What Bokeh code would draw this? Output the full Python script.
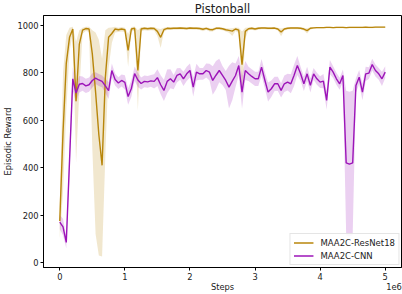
from bokeh.plotting import figure
from bokeh.models import Legend, LegendItem, FixedTicker, LinearAxis
from bokeh.embed import file_html
from bokeh.resources import INLINE

# evaluation steps (in units of 1e6), one evaluation every 50k steps
eval_every_m = 0.05
steps_m = [round(i * eval_every_m, 2) for i in range(101)]

resnet_mean = [175, 550, 840, 950, 985, 680, 920, 980, 987, 985,
               880, 720, 540, 410, 780, 950, 966, 985, 982, 985,
               982, 895, 985, 988, 810, 985, 988, 986, 988, 987,
               975, 950, 982, 988, 987, 988, 988, 989, 988, 987,
               989, 988, 988, 987, 984, 988, 983, 982, 988, 988,
               986, 982, 979, 976, 985, 980, 835, 975, 986, 988,
               985, 988, 989, 989, 988, 988, 989, 985, 972, 985,
               988, 989, 989, 989, 988, 985, 978, 988, 990, 991,
               991, 991, 992, 992, 991, 992, 992, 992, 991, 992,
               992, 992, 992, 992, 993, 992, 992, 993, 993, 993, 993]
resnet_down = [75, 250, 200, 60, 15, 260, 200, 15, 10, 12,
               400, 600, 510, 385, 330, 130, 40, 15, 10, 10,
               10, 70, 10, 10, 170, 10, 8, 8, 8, 8,
               20, 45, 10, 6, 6, 6, 6, 6, 6, 6,
               6, 6, 6, 6, 8, 6, 8, 8, 6, 6,
               6, 8, 10, 20, 8, 12, 135, 30, 6, 6,
               6, 6, 5, 5, 5, 5, 5, 6, 18, 6,
               5, 5, 5, 5, 5, 6, 12, 5, 4, 4,
               4, 4, 4, 4, 4, 4, 4, 4, 4, 4,
               4, 4, 4, 4, 4, 4, 4, 4, 4, 4, 4]
resnet_up = [75, 250, 120, 40, 10, 250, 60, 10, 8, 10,
             100, 250, 400, 450, 200, 40, 25, 10, 8, 8,
             8, 70, 8, 8, 170, 8, 6, 6, 6, 6,
             12, 35, 8, 5, 5, 5, 5, 5, 5, 5,
             5, 5, 5, 5, 6, 5, 6, 6, 5, 5,
             5, 6, 8, 12, 6, 10, 140, 15, 5, 5,
             5, 5, 4, 4, 4, 4, 4, 5, 15, 5,
             4, 4, 4, 4, 4, 5, 10, 4, 3, 3,
             3, 3, 3, 3, 3, 3, 3, 3, 3, 3,
             3, 3, 3, 3, 3, 3, 3, 3, 3, 3, 3]

cnn_mean = [170, 150, 85, 430, 775, 715, 752, 755, 745, 750,
            768, 778, 770, 764, 745, 725, 810, 772, 757, 768,
            760, 700, 734, 797, 770, 755, 764, 762, 766, 764,
            780, 750, 726, 764, 775, 761, 789, 796, 775, 796,
            810, 740, 803, 796, 796, 810, 803, 768, 790, 810,
            789, 768, 740, 765, 789, 831, 719, 810, 796, 785,
            775, 775, 824, 770, 719, 733, 754, 754, 726, 754,
            761, 754, 790, 831, 796, 754, 796, 747, 796, 775,
            761, 765, 684, 824, 803, 775, 754, 789, 420, 415,
            420, 747, 782, 719, 796, 799, 835, 810, 796, 775, 803]
cnn_spread = [30, 35, 25, 60, 50, 40, 35, 30, 30, 30,
              30, 25, 25, 25, 30, 35, 30, 25, 25, 25,
              30, 35, 35, 30, 30, 25, 25, 25, 25, 30,
              35, 40, 45, 50, 40, 30, 30, 25, 30, 30,
              30, 40, 35, 25, 25, 30, 35, 60, 60, 50,
              40, 40, 90, 80, 50, 40, 70, 40, 30, 30,
              30, 30, 35, 35, 40, 35, 30, 30, 30, 35,
              35, 40, 45, 40, 30, 30, 30, 30, 25, 25,
              25, 30, 40, 30, 25, 25, 25, 25, 305, 305,
              305, 30, 30, 35, 30, 25, 25, 25, 25, 30, 25]

series_names = ["MAA2C-ResNet18", "MAA2C-CNN"]
series_colors = ["#B8860B", "#9C14B8"]
x_ticks = [0, 1, 2, 3, 4, 5]
y_ticks = [0, 200, 400, 600, 800, 1000]
x_label = "Steps"
x_offset_text = "1e6"

FONT = "DejaVu Sans"
TXT = "#222222"

p = figure(width=402, height=294, output_backend="svg", toolbar_location=None,
           x_range=(-0.25, 5.25), y_range=(-21, 1042),
           min_border_left=43, min_border_right=1, min_border_top=0,
           min_border_bottom=0)

p.title.text = "Pistonball"
p.title.align = "center"
p.title.text_font = FONT
p.title.text_font_size = "11.5px"
p.title.text_font_style = "normal"
p.title.text_color = TXT
p.title.standoff = -1

p.xgrid.visible = False
p.ygrid.visible = False
p.outline_line_color = "black"
p.outline_line_width = 1
p.outline_line_alpha = 1
p.background_fill_color = "white"
p.border_fill_color = "white"

bands = [
    (resnet_mean, [m - d for m, d in zip(resnet_mean, resnet_down)],
     [m + u for m, u in zip(resnet_mean, resnet_up)]),
    (cnn_mean, [m - s for m, s in zip(cnn_mean, cnn_spread)],
     [m + s for m, s in zip(cnn_mean, cnn_spread)]),
]
for (mean, lo, hi), color in zip(bands, series_colors):
    p.varea(x=steps_m, y1=lo, y2=hi, fill_color=color, fill_alpha=0.2)
items = []
for (mean, lo, hi), name, color in zip(bands, series_names, series_colors):
    r = p.line(x=steps_m, y=mean, line_color=color, line_width=1.4)
    items.append(LegendItem(label=name, renderers=[r]))

def style_axis(ax):
    ax.axis_line_color = "black"
    ax.major_tick_line_color = "black"
    ax.major_tick_out = 3
    ax.major_tick_in = 0
    ax.minor_tick_line_color = None
    ax.major_label_text_font = FONT
    ax.major_label_text_font_size = "8.3px"
    ax.major_label_text_color = TXT
    ax.axis_label_text_font = FONT
    ax.axis_label_text_font_size = "8.3px"
    ax.axis_label_text_font_style = "normal"
    ax.axis_label_text_color = TXT
    ax.major_label_standoff = 2

style_axis(p.xaxis[0])
style_axis(p.yaxis[0])
p.xaxis[0].ticker = FixedTicker(ticks=x_ticks)
p.yaxis[0].ticker = FixedTicker(ticks=y_ticks)
p.yaxis[0].axis_label = "Episodic Reward"
p.yaxis[0].axis_label_standoff = 1

# second row below the x axis: axis title "Steps" (centred) and the
# scale-offset text "1e6" at the right end, as in matplotlib
label_axis = LinearAxis(ticker=FixedTicker(ticks=[2.5, 5.135]),
                        major_label_overrides={2.5: x_label, 5.135: x_offset_text})
style_axis(label_axis)
label_axis.axis_line_color = None
label_axis.major_tick_line_color = None
label_axis.major_tick_out = 0
label_axis.major_label_standoff = -1
p.add_layout(label_axis, "below")

legend = Legend(items=items, location="bottom_right")
legend.label_text_font = FONT
legend.label_text_font_size = "8.5px"
legend.label_text_color = TXT
legend.glyph_width = 20
legend.glyph_height = 11
legend.label_height = 11
legend.spacing = 2
legend.padding = 3
legend.margin = 2
legend.label_standoff = 7
legend.border_line_color = "#cccccc"
legend.border_line_width = 1
legend.background_fill_alpha = 0.85
p.add_layout(legend)

open("out.html", "w").write(file_html(p, INLINE))
